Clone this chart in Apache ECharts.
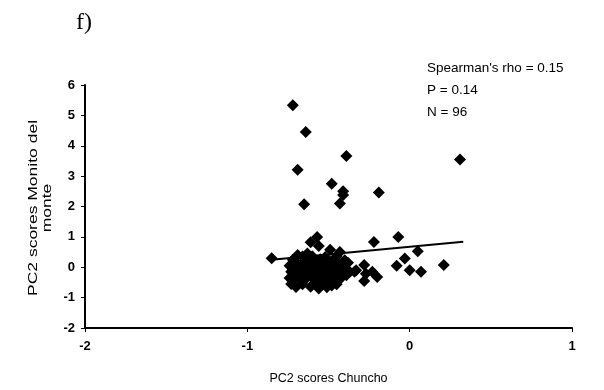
<!DOCTYPE html>
<html>
<head>
<meta charset="utf-8">
<script src="https://cdn.jsdelivr.net/npm/echarts@6/dist/echarts.min.js"></script>
<style>
  html, body { margin: 0; padding: 0; background: #fff; }
  #chart { width: 604px; height: 390px; }
</style>
</head>
<body>
<div id="chart"></div>
<script>
// PC2 scores: Chuncho (x) vs Monito del monte (y), one entry per individual
const pcChuncho = [
  // upper outliers
  -0.72, -0.64, -0.39, -0.69, -0.48, -0.41, -0.41, -0.43, -0.65, -0.19, 0.31,
  // spread around the cluster
  -0.57, -0.61, -0.56, -0.49, -0.43, -0.22, -0.07, 0.05, -0.03, -0.08, 0.00,
  0.07, 0.21, -0.23, -0.20, -0.33, -0.28, -0.27, -0.28, -0.34, -0.85,
  // dense cluster
  -0.66, -0.60, -0.52, -0.45,
  -0.72, -0.63, -0.55, -0.47, -0.40,
  -0.70, -0.66, -0.58, -0.50, -0.44, -0.38,
  -0.74, -0.68, -0.61, -0.54, -0.46, -0.41,
  -0.72, -0.65, -0.59, -0.52, -0.48, -0.40,
  -0.73, -0.67, -0.62, -0.55, -0.49, -0.43, -0.37,
  -0.71, -0.64, -0.58, -0.51, -0.45, -0.39,
  -0.74, -0.68, -0.60, -0.53, -0.47, -0.42,
  -0.72, -0.65, -0.57, -0.50, -0.44,
  -0.73, -0.66, -0.58, -0.52, -0.45,
  -0.70, -0.61, -0.51,
  -0.63, -0.69, -0.56, -0.48, -0.60
];
const pcMonito = [
  5.33, 4.45, 3.66, 3.21, 2.75, 2.50, 2.38, 2.10, 2.07, 2.46, 3.55,
  1.00, 0.82, 0.70, 0.58, 0.50, 0.83, 1.00, 0.53, 0.29, 0.05, -0.10,
  -0.15, 0.07, -0.15, -0.32, -0.10, 0.07, -0.21, -0.45, -0.15, 0.30,
  0.35, 0.36, 0.34, 0.35,
  0.25, 0.24, 0.26, 0.25, 0.23,
  0.15, 0.14, 0.16, 0.15, 0.13, 0.15,
  0.05, 0.06, 0.04, 0.05, 0.06, 0.04,
  -0.05, -0.04, -0.06, -0.05, -0.04, -0.06,
  -0.15, -0.14, -0.16, -0.15, -0.14, -0.16, -0.15,
  -0.25, -0.24, -0.26, -0.25, -0.24, -0.26,
  -0.35, -0.36, -0.34, -0.35, -0.36, -0.34,
  -0.45, -0.44, -0.46, -0.45, -0.44,
  -0.55, -0.56, -0.54, -0.55, -0.56,
  -0.65, -0.64, -0.66,
  0.45, 0.40, -0.70, -0.60, 0.30
];

// fitted trend line, given by its two end points
const trendX = [-0.85, 0.33];
const trendY = [0.25, 0.84];

const xTicks = { min: -2, max: 1, step: 1 };
const yTicks = { min: -2, max: 6, step: 1 };

const statLines = ["Spearman's rho = 0.15", 'P = 0.14', 'N = 96'];
const yAxisTitle = ['PC2 scores Monito del', 'monte'];

const points = pcChuncho.map((x, i) => [x, pcMonito[i]]);
const trend = trendX.map((x, i) => [x, trendY[i]]);

const chart = echarts.init(document.getElementById('chart'), null, { renderer: 'canvas' });

const axisFont = { fontFamily: 'Liberation Sans, Arial, sans-serif', fontSize: 13, fontWeight: 'bold', color: '#000' };

chart.setOption({
  animation: false,
  backgroundColor: '#fff',
  title: {
    text: 'f)',
    left: 71,
    top: 6,
    textStyle: { fontFamily: 'Liberation Serif, Times New Roman, serif', fontSize: 24, fontWeight: 'normal', color: '#000' }
  },
  graphic: [
    {
      type: 'text',
      left: 427,
      top: 57,
      style: {
        text: statLines.join('\n'),
        font: '13.5px "Liberation Sans", Arial, sans-serif',
        lineHeight: 22,
        fill: '#000'
      }
    },
    {
      // vertical axis title, stretched along its baseline
      type: 'text',
      x: 41,
      y: 208,
      rotation: Math.PI / 2,
      scaleX: 1.4,
      style: {
        text: yAxisTitle.join('\n'),
        font: '12.5px "Liberation Sans", Arial, sans-serif',
        lineHeight: 14,
        align: 'center',
        verticalAlign: 'middle',
        fill: '#000'
      }
    }
  ],
  grid: { left: 85, right: 32, top: 85, bottom: 62, containLabel: false },
  xAxis: {
    type: 'value',
    min: xTicks.min,
    max: xTicks.max,
    interval: xTicks.step,
    name: 'PC2 scores Chuncho',
    nameLocation: 'middle',
    nameGap: 44,
    nameTextStyle: { fontFamily: 'Liberation Sans, Arial, sans-serif', fontSize: 12.5, color: '#000' },
    axisLine: { onZero: false, lineStyle: { color: '#000', width: 2 } },
    axisTick: { show: true, inside: false, length: 4, lineStyle: { color: '#000', width: 1 } },
    axisLabel: Object.assign({ margin: 12 }, axisFont),
    splitLine: { show: false }
  },
  yAxis: {
    type: 'value',
    min: yTicks.min,
    max: yTicks.max,
    interval: yTicks.step,
    axisLine: { onZero: false, lineStyle: { color: '#000', width: 2 } },
    axisTick: { show: true, inside: false, length: 4, lineStyle: { color: '#000', width: 1 } },
    axisLabel: Object.assign({ margin: 10 }, axisFont),
    splitLine: { show: false }
  },
  series: [
    {
      type: 'scatter',
      data: points,
      symbol: 'diamond',
      symbolSize: 12,
      itemStyle: { color: '#000', opacity: 1 },
      z: 3
    },
    {
      type: 'line',
      data: trend,
      showSymbol: false,
      symbol: 'none',
      lineStyle: { color: '#000', width: 2 },
      z: 4
    }
  ]
});
</script>
</body>
</html>
